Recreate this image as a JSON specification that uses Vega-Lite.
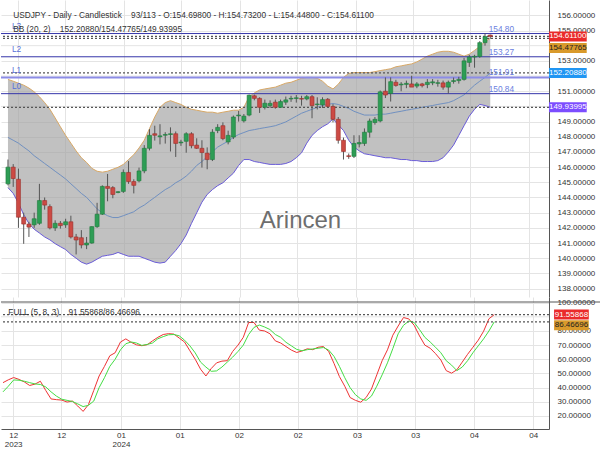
{
  "$schema": "https://vega.github.io/schema/vega-lite/v6.json",
  "padding": 0,
  "background": "white",
  "spacing": 0,
  "bounds": "flush",
  "config": {
    "font": "Liberation Sans",
    "view": {"stroke": null},
    "axis": {"labelFont": "Liberation Sans", "labelFontSize": 8, "labelColor": "#333", "gridColor": "#e4e4e4", "domainColor": "#555", "ticks": false, "labelFlush": false, "labelOverlap": false}
  },
  "datasets": {
    "candles": [
      {"i":0,"open":144.9,"high":146.5,"low":144.8,"close":146.0,"bbUpper":151.78,"bbMid":147.96,"bbLower":144.65,"k":43.5,"d":37},
      {"i":1,"open":146.0,"high":146.2,"low":144.7,"close":145.25,"bbUpper":151.66,"bbMid":147.77,"bbLower":144.27,"k":45.5,"d":41},
      {"i":2,"open":145.2,"high":145.9,"low":142.0,"close":142.7,"bbUpper":151.53,"bbMid":147.58,"bbLower":143.63,"k":47.1,"d":45.4},
      {"i":3,"open":142.7,"high":143.0,"low":140.95,"close":142.25,"bbUpper":151.4,"bbMid":147.32,"bbLower":142.87,"k":45.8,"d":45.2},
      {"i":4,"open":142.25,"high":142.4,"low":141.4,"close":142.05,"bbUpper":151.21,"bbMid":147.07,"bbLower":142.29,"k":44,"d":44.5},
      {"i":5,"open":142.2,"high":143.0,"low":142.0,"close":142.6,"bbUpper":150.96,"bbMid":146.75,"bbLower":141.91,"k":41.5,"d":43.5},
      {"i":6,"open":142.3,"high":144.9,"low":142.2,"close":143.8,"bbUpper":150.64,"bbMid":146.5,"bbLower":141.66,"k":42.5,"d":42.6},
      {"i":7,"open":143.8,"high":144.0,"low":143.2,"close":143.5,"bbUpper":150.25,"bbMid":146.24,"bbLower":141.4,"k":44.5,"d":42.2},
      {"i":8,"open":143.4,"high":143.55,"low":141.9,"close":142.0,"bbUpper":149.81,"bbMid":145.99,"bbLower":141.21,"k":38,"d":40.5},
      {"i":9,"open":142.0,"high":142.5,"low":141.8,"close":142.3,"bbUpper":149.24,"bbMid":145.73,"bbLower":140.96,"k":32,"d":37},
      {"i":10,"open":142.3,"high":142.45,"low":141.95,"close":142.15,"bbUpper":148.66,"bbMid":145.48,"bbLower":140.76,"k":31.5,"d":34},
      {"i":11,"open":142.2,"high":142.6,"low":142.0,"close":142.4,"bbUpper":148.09,"bbMid":145.22,"bbLower":140.57,"k":31.2,"d":31.8},
      {"i":12,"open":142.4,"high":142.8,"low":141.3,"close":141.4,"bbUpper":147.58,"bbMid":144.9,"bbLower":140.25,"k":29.8,"d":31},
      {"i":13,"open":141.4,"high":141.6,"low":140.25,"close":141.2,"bbUpper":147.07,"bbMid":144.59,"bbLower":140.0,"k":30.5,"d":30.2},
      {"i":14,"open":141.35,"high":141.85,"low":140.65,"close":140.87,"bbUpper":146.62,"bbMid":144.27,"bbLower":139.74,"k":27,"d":28.5},
      {"i":15,"open":140.87,"high":141.4,"low":140.6,"close":141.0,"bbUpper":146.31,"bbMid":144.01,"bbLower":139.61,"k":23.2,"d":26.6},
      {"i":16,"open":141.0,"high":142.1,"low":140.95,"close":142.08,"bbUpper":145.92,"bbMid":143.63,"bbLower":139.74,"k":28,"d":27.5},
      {"i":17,"open":142.08,"high":143.65,"low":142.0,"close":142.9,"bbUpper":145.73,"bbMid":143.25,"bbLower":139.94,"k":38,"d":30.5},
      {"i":18,"open":142.9,"high":144.8,"low":142.85,"close":144.73,"bbUpper":145.67,"bbMid":142.99,"bbLower":140.13,"k":48.2,"d":40},
      {"i":19,"open":144.73,"high":145.55,"low":143.75,"close":144.6,"bbUpper":145.73,"bbMid":142.8,"bbLower":140.19,"k":55,"d":47},
      {"i":20,"open":144.65,"high":144.75,"low":143.95,"close":144.2,"bbUpper":145.86,"bbMid":142.68,"bbLower":140.25,"k":62.5,"d":55},
      {"i":21,"open":144.33,"high":144.42,"low":144.28,"close":144.38,"bbUpper":145.99,"bbMid":142.68,"bbLower":140.38,"k":64.6,"d":60},
      {"i":22,"open":144.4,"high":145.85,"low":144.3,"close":145.65,"bbUpper":146.18,"bbMid":142.8,"bbLower":140.25,"k":72.2,"d":66.7},
      {"i":23,"open":145.65,"high":146.4,"low":144.9,"close":145.05,"bbUpper":146.5,"bbMid":142.93,"bbLower":140.13,"k":74.4,"d":71},
      {"i":24,"open":145.05,"high":145.2,"low":144.27,"close":144.8,"bbUpper":146.82,"bbMid":143.06,"bbLower":140.13,"k":72,"d":72.2},
      {"i":25,"open":145.1,"high":145.97,"low":145.0,"close":145.75,"bbUpper":147.26,"bbMid":143.31,"bbLower":140.13,"k":70.2,"d":71.5},
      {"i":26,"open":145.75,"high":147.45,"low":145.6,"close":147.24,"bbUpper":147.77,"bbMid":143.5,"bbLower":140.0,"k":69.6,"d":69.8},
      {"i":27,"open":147.24,"high":148.5,"low":147.1,"close":148.09,"bbUpper":148.54,"bbMid":143.76,"bbLower":139.87,"k":70.3,"d":70.5},
      {"i":28,"open":148.2,"high":148.73,"low":147.75,"close":148.1,"bbUpper":149.3,"bbMid":144.01,"bbLower":139.74,"k":73,"d":71.5},
      {"i":29,"open":148.0,"high":148.83,"low":147.5,"close":148.06,"bbUpper":149.94,"bbMid":144.27,"bbLower":139.68,"k":75.5,"d":74.5},
      {"i":30,"open":148.1,"high":148.3,"low":147.55,"close":148.15,"bbUpper":150.25,"bbMid":144.52,"bbLower":139.74,"k":77.5,"d":76},
      {"i":31,"open":148.15,"high":148.62,"low":147.03,"close":148.2,"bbUpper":150.38,"bbMid":144.71,"bbLower":140.13,"k":78.1,"d":77.3},
      {"i":32,"open":148.2,"high":148.35,"low":146.67,"close":147.56,"bbUpper":150.25,"bbMid":144.97,"bbLower":140.51,"k":77.8,"d":77.5},
      {"i":33,"open":147.6,"high":147.8,"low":147.4,"close":147.65,"bbUpper":150.13,"bbMid":145.16,"bbLower":140.96,"k":75,"d":76.6},
      {"i":34,"open":147.7,"high":148.3,"low":146.95,"close":148.2,"bbUpper":149.94,"bbMid":145.41,"bbLower":141.53,"k":72.2,"d":73.5},
      {"i":35,"open":148.2,"high":148.3,"low":147.24,"close":147.41,"bbUpper":149.81,"bbMid":145.73,"bbLower":142.29,"k":66,"d":69.5},
      {"i":36,"open":147.45,"high":147.9,"low":147.2,"close":147.24,"bbUpper":149.75,"bbMid":146.11,"bbLower":142.99,"k":60,"d":64.5},
      {"i":37,"open":147.24,"high":147.77,"low":145.97,"close":146.96,"bbUpper":149.68,"bbMid":146.37,"bbLower":143.69,"k":53,"d":58},
      {"i":38,"open":146.92,"high":147.3,"low":145.86,"close":146.5,"bbUpper":149.62,"bbMid":146.69,"bbLower":144.2,"k":48.2,"d":54.5},
      {"i":39,"open":146.5,"high":148.5,"low":146.4,"close":148.3,"bbUpper":149.62,"bbMid":147.01,"bbLower":144.52,"k":53.5,"d":51.5},
      {"i":40,"open":148.41,"high":148.83,"low":148.24,"close":148.62,"bbUpper":149.55,"bbMid":147.32,"bbLower":144.78,"k":57.5,"d":51.8},
      {"i":41,"open":148.73,"high":148.95,"low":147.77,"close":147.88,"bbUpper":149.62,"bbMid":147.52,"bbLower":144.97,"k":58.7,"d":54.5},
      {"i":42,"open":147.66,"high":148.4,"low":147.5,"close":148.09,"bbUpper":149.68,"bbMid":147.71,"bbLower":145.29,"k":59,"d":58},
      {"i":43,"open":147.98,"high":149.4,"low":147.85,"close":149.3,"bbUpper":149.75,"bbMid":147.96,"bbLower":145.6,"k":65.5,"d":61.5},
      {"i":44,"open":149.38,"high":149.7,"low":149.0,"close":149.43,"bbUpper":149.75,"bbMid":148.15,"bbLower":146.11,"k":70,"d":65.5},
      {"i":45,"open":149.05,"high":149.5,"low":148.94,"close":149.36,"bbUpper":149.94,"bbMid":148.28,"bbLower":146.5,"k":75.5,"d":70},
      {"i":46,"open":149.43,"high":150.78,"low":149.35,"close":150.74,"bbUpper":150.64,"bbMid":148.41,"bbLower":146.5,"k":86,"d":77.5},
      {"i":47,"open":150.7,"high":150.78,"low":150.4,"close":150.53,"bbUpper":150.89,"bbMid":148.47,"bbLower":146.37,"k":86,"d":82.5},
      {"i":48,"open":150.53,"high":150.6,"low":149.57,"close":149.94,"bbUpper":151.08,"bbMid":148.54,"bbLower":146.31,"k":80.6,"d":84.2},
      {"i":49,"open":149.94,"high":150.45,"low":149.8,"close":150.21,"bbUpper":151.15,"bbMid":148.6,"bbLower":146.24,"k":80,"d":82.8},
      {"i":50,"open":150.05,"high":150.4,"low":149.9,"close":150.2,"bbUpper":151.21,"bbMid":148.66,"bbLower":146.18,"k":78,"d":81},
      {"i":51,"open":150.28,"high":150.45,"low":149.85,"close":149.94,"bbUpper":151.27,"bbMid":148.73,"bbLower":146.18,"k":73,"d":77.5},
      {"i":52,"open":149.94,"high":150.45,"low":149.9,"close":150.32,"bbUpper":151.4,"bbMid":148.85,"bbLower":146.18,"k":71.5,"d":75.5},
      {"i":53,"open":150.28,"high":150.65,"low":150.1,"close":150.43,"bbUpper":151.53,"bbMid":148.98,"bbLower":146.24,"k":69,"d":72},
      {"i":54,"open":150.49,"high":150.7,"low":150.3,"close":150.53,"bbUpper":151.59,"bbMid":149.17,"bbLower":146.37,"k":66.5,"d":69.5},
      {"i":55,"open":150.52,"high":150.75,"low":150.25,"close":150.57,"bbUpper":151.72,"bbMid":149.36,"bbLower":146.62,"k":64.8,"d":67},
      {"i":56,"open":150.52,"high":150.7,"low":150.05,"close":150.48,"bbUpper":151.85,"bbMid":149.55,"bbLower":146.94,"k":65.9,"d":66},
      {"i":57,"open":150.49,"high":150.75,"low":150.4,"close":150.64,"bbUpper":151.91,"bbMid":149.68,"bbLower":147.58,"k":67.4,"d":66.8},
      {"i":58,"open":150.64,"high":150.75,"low":149.22,"close":150.05,"bbUpper":151.91,"bbMid":149.81,"bbLower":148.09,"k":66.8,"d":67.3},
      {"i":59,"open":150.12,"high":150.6,"low":149.8,"close":150.16,"bbUpper":151.85,"bbMid":149.94,"bbLower":148.41,"k":68.5,"d":67.8},
      {"i":60,"open":150.1,"high":150.6,"low":149.9,"close":150.45,"bbUpper":151.66,"bbMid":150.06,"bbLower":148.66,"k":69,"d":68.3},
      {"i":61,"open":150.47,"high":150.55,"low":149.95,"close":150.0,"bbUpper":151.34,"bbMid":150.13,"bbLower":148.85,"k":65.5,"d":66.5},
      {"i":62,"open":150.0,"high":150.15,"low":148.95,"close":149.15,"bbUpper":151.15,"bbMid":150.19,"bbLower":149.17,"k":57,"d":62},
      {"i":63,"open":149.15,"high":149.3,"low":147.55,"close":147.77,"bbUpper":151.46,"bbMid":150.13,"bbLower":148.79,"k":47.8,"d":55},
      {"i":64,"open":147.77,"high":147.95,"low":146.5,"close":147.03,"bbUpper":151.91,"bbMid":150.0,"bbLower":148.41,"k":41,"d":47},
      {"i":65,"open":146.75,"high":146.9,"low":146.55,"close":146.7,"bbUpper":152.17,"bbMid":149.87,"bbLower":147.77,"k":33,"d":40},
      {"i":66,"open":146.71,"high":148.1,"low":146.6,"close":147.56,"bbUpper":152.23,"bbMid":149.68,"bbLower":147.33,"k":31,"d":35},
      {"i":67,"open":147.53,"high":148.1,"low":147.3,"close":147.62,"bbUpper":152.23,"bbMid":149.55,"bbLower":147.07,"k":29.7,"d":32},
      {"i":68,"open":147.56,"high":148.55,"low":147.4,"close":148.3,"bbUpper":152.23,"bbMid":149.43,"bbLower":146.88,"k":33,"d":31},
      {"i":69,"open":148.3,"high":149.2,"low":147.95,"close":149.04,"bbUpper":152.23,"bbMid":149.43,"bbLower":146.82,"k":39,"d":34},
      {"i":70,"open":148.94,"high":149.3,"low":148.8,"close":149.15,"bbUpper":152.29,"bbMid":149.43,"bbLower":146.75,"k":49,"d":41},
      {"i":71,"open":149.04,"high":151.05,"low":148.95,"close":150.96,"bbUpper":152.36,"bbMid":149.49,"bbLower":146.69,"k":59,"d":49},
      {"i":72,"open":151.0,"high":151.91,"low":150.55,"close":150.75,"bbUpper":152.42,"bbMid":149.49,"bbLower":146.62,"k":66.7,"d":57.5},
      {"i":73,"open":150.85,"high":151.91,"low":150.32,"close":151.63,"bbUpper":152.48,"bbMid":149.55,"bbLower":146.62,"k":77,"d":67.5},
      {"i":74,"open":151.59,"high":151.75,"low":151.3,"close":151.38,"bbUpper":152.61,"bbMid":149.62,"bbLower":146.56,"k":83.5,"d":78},
      {"i":75,"open":151.42,"high":151.6,"low":151.0,"close":151.47,"bbUpper":152.67,"bbMid":149.68,"bbLower":146.5,"k":89.5,"d":84},
      {"i":76,"open":151.45,"high":151.7,"low":151.2,"close":151.52,"bbUpper":152.74,"bbMid":149.75,"bbLower":146.5,"k":88.5,"d":87},
      {"i":77,"open":151.48,"high":152.02,"low":151.3,"close":151.27,"bbUpper":152.8,"bbMid":149.81,"bbLower":146.43,"k":84,"d":86},
      {"i":78,"open":151.34,"high":151.6,"low":151.2,"close":151.48,"bbUpper":152.93,"bbMid":149.87,"bbLower":146.43,"k":76.5,"d":81},
      {"i":79,"open":151.48,"high":151.55,"low":151.25,"close":151.37,"bbUpper":153.12,"bbMid":149.94,"bbLower":146.37,"k":70,"d":75.5},
      {"i":80,"open":151.44,"high":151.8,"low":151.2,"close":151.59,"bbUpper":153.31,"bbMid":150.0,"bbLower":146.37,"k":67.8,"d":72.2},
      {"i":81,"open":151.55,"high":151.8,"low":151.4,"close":151.62,"bbUpper":153.44,"bbMid":150.06,"bbLower":146.37,"k":64,"d":68.5},
      {"i":82,"open":151.52,"high":151.75,"low":151.3,"close":151.56,"bbUpper":153.57,"bbMid":150.13,"bbLower":146.43,"k":59.5,"d":64.6},
      {"i":83,"open":151.55,"high":151.7,"low":151.1,"close":151.27,"bbUpper":153.63,"bbMid":150.19,"bbLower":146.62,"k":52,"d":59},
      {"i":84,"open":151.27,"high":151.7,"low":150.85,"close":151.59,"bbUpper":153.63,"bbMid":150.25,"bbLower":147.0,"k":50.2,"d":55.9},
      {"i":85,"open":151.64,"high":151.9,"low":151.5,"close":151.7,"bbUpper":153.57,"bbMid":150.38,"bbLower":147.45,"k":52.6,"d":52},
      {"i":86,"open":151.7,"high":151.95,"low":151.5,"close":151.78,"bbUpper":153.44,"bbMid":150.57,"bbLower":148.09,"k":58,"d":54.5},
      {"i":87,"open":151.78,"high":153.2,"low":151.7,"close":153.0,"bbUpper":153.31,"bbMid":150.76,"bbLower":148.73,"k":63.5,"d":59},
      {"i":88,"open":152.9,"high":153.4,"low":152.6,"close":153.25,"bbUpper":153.44,"bbMid":151.08,"bbLower":149.36,"k":68.5,"d":64.6},
      {"i":89,"open":153.25,"high":153.4,"low":152.55,"close":153.3,"bbUpper":153.69,"bbMid":151.4,"bbLower":149.81,"k":73.5,"d":69.5},
      {"i":90,"open":153.29,"high":154.3,"low":153.2,"close":154.2,"bbUpper":153.95,"bbMid":151.66,"bbLower":150.13,"k":79.8,"d":74.4},
      {"i":91,"open":154.2,"high":154.82,"low":154.0,"close":154.6,"bbUpper":154.27,"bbMid":151.91,"bbLower":150.06,"k":88.6,"d":80},
      {"i":92,"open":154.698,"high":154.732,"low":154.448,"close":154.611,"bbUpper":154.47765,"bbMid":152.2088,"bbLower":149.93995,"k":91.55868,"d":86.46696}
    ],
    "levels": [
      {"level":"L3","value":154.80,"label":"154.80"},
      {"level":"L2","value":153.27,"label":"153.27"},
      {"level":"L1","value":151.91,"label":"151.91"},
      {"level":"L0","value":150.84,"label":"150.84"}
    ],
    "topMarks": [
      {"series":"close","value":154.611,"label":"154.61100"},
      {"series":"bbUpper","value":154.47765,"label":"154.47765"},
      {"series":"bbMid","value":152.2088,"label":"152.20880"},
      {"series":"bbLower","value":149.93995,"label":"149.93995"}
    ],
    "stochMarks": [
      {"series":"k","value":91.55868,"label":"91.55868"},
      {"series":"d","value":86.46696,"label":"86.46696"}
    ]
  },
  "vconcat": [
    {
      "width": 548,
      "height": 297,
      "data": {"name": "candles"},
      "layer": [
        {
          "mark": {"type": "rule", "color": "#e4e4e4", "strokeWidth": 1},
          "data": {"values": [{"v": 150}, {"v": 152}, {"v": 154}]},
          "encoding": {
            "y": {"field": "v", "type": "quantitative", "scale": {"domain": [137.775, 156.68], "nice": false, "zero": false}}
          }
        },
        {
          "mark": {"type": "area", "color": "#a0a0a0", "opacity": 0.65},
          "encoding": {
            "x": {"field": "i", "type": "quantitative", "scale": {"domain": [-0.375, 102.25], "nice": false, "zero": false},
                  "axis": {"values": [1.9, 10.9, 22.1, 33.1, 44.2, 55.2, 66.3, 77.2, 88.2, 99.3], "tickCount": 50, "labels": false, "ticks": false, "grid": true, "domain": false, "title": null}},
            "y": {"field": "bbUpper", "type": "quantitative", "scale": {"domain": [137.775, 156.68], "nice": false, "zero": false},
                  "axis": {"orient": "right", "values": [138,139,140,141,142,143,144,145,146,147,148,149,151,153,155,156], "tickCount": 50, "format": ".5f", "labelPadding": 8, "ticks": false, "grid": true, "domain": true, "domainColor": "#555", "labelOverlap": false, "title": null}},
            "y2": {"field": "bbLower"}
          }
        },
        {
          "mark": {"type": "line", "color": "#7090c0", "strokeWidth": 1},
          "encoding": {
            "x": {"field": "i", "type": "quantitative", "scale": {"domain": [-0.375, 102.25], "nice": false, "zero": false}},
            "y": {"field": "bbMid", "type": "quantitative", "scale": {"domain": [137.775, 156.68], "nice": false, "zero": false}}
          }
        },
        {
          "mark": {"type": "line", "color": "#d8a866", "strokeWidth": 1},
          "encoding": {
            "x": {"field": "i", "type": "quantitative", "scale": {"domain": [-0.375, 102.25], "nice": false, "zero": false}},
            "y": {"field": "bbUpper", "type": "quantitative", "scale": {"domain": [137.775, 156.68], "nice": false, "zero": false}}
          }
        },
        {
          "mark": {"type": "line", "color": "#6a5cd8", "strokeWidth": 1},
          "encoding": {
            "x": {"field": "i", "type": "quantitative", "scale": {"domain": [-0.375, 102.25], "nice": false, "zero": false}},
            "y": {"field": "bbLower", "type": "quantitative", "scale": {"domain": [137.775, 156.68], "nice": false, "zero": false}}
          }
        },
        {
          "data": {"name": "levels"},
          "transform": [{"filter": "datum.level != 'L1'"}],
          "mark": {"type": "rule", "color": "#3636aa", "strokeWidth": 1},
          "encoding": {
            "y": {"field": "value", "type": "quantitative", "scale": {"domain": [137.775, 156.68], "nice": false, "zero": false}}
          }
        },
        {
          "data": {"name": "levels"},
          "transform": [{"filter": "datum.level == 'L1'"}],
          "mark": {"type": "rule", "color": "#8c8ce6", "strokeWidth": 2},
          "encoding": {
            "y": {"field": "value", "type": "quantitative", "scale": {"domain": [137.775, 156.68], "nice": false, "zero": false}}
          }
        },
        {
          "data": {"name": "topMarks"},
          "mark": {"type": "rule", "color": "#555", "strokeWidth": 1.2, "strokeDash": [2, 2]},
          "encoding": {
            "y": {"field": "value", "type": "quantitative", "scale": {"domain": [137.775, 156.68], "nice": false, "zero": false}}
          }
        },
        {
          "data": {"values": [{"text": "Arincen"}]},
          "mark": {"type": "text", "fontSize": 24, "color": "#6e6e6e", "align": "center", "baseline": "middle"},
          "encoding": {
            "x": {"datum": 55.8, "type": "quantitative", "scale": {"domain": [-0.375, 102.25], "nice": false, "zero": false}},
            "y": {"datum": 142.42, "type": "quantitative", "scale": {"domain": [137.775, 156.68], "nice": false, "zero": false}},
            "text": {"field": "text"}
          }
        },
        {
          "mark": {"type": "rule", "color": "#555", "strokeWidth": 1},
          "encoding": {
            "x": {"field": "i", "type": "quantitative", "scale": {"domain": [-0.375, 102.25], "nice": false, "zero": false}},
            "y": {"field": "low", "type": "quantitative", "scale": {"domain": [137.775, 156.68], "nice": false, "zero": false}},
            "y2": {"field": "high"}
          }
        },
        {
          "mark": {"type": "bar", "size": 4, "strokeWidth": 0.6},
          "encoding": {
            "x": {"field": "i", "type": "quantitative", "scale": {"domain": [-0.375, 102.25], "nice": false, "zero": false}},
            "y": {"field": "open", "type": "quantitative", "scale": {"domain": [137.775, 156.68], "nice": false, "zero": false}},
            "y2": {"field": "close"},
            "fill": {"condition": {"test": "datum.close < datum.open", "value": "#cc4a44"}, "value": "#2e9d55"},
            "stroke": {"condition": {"test": "datum.close < datum.open", "value": "#9b2f2a"}, "value": "#1f7a3d"}
          }
        },
        {
          "data": {"values": [{"text": "USDJPY - Daily - Candlestick \u00a0\u00a0\u00a093/113 - O:154.69800 - H:154.73200 - L:154.44800 - C:154.61100"}]},
          "mark": {"type": "text", "fontSize": 8.3, "color": "#333", "align": "left", "baseline": "alphabetic"},
          "encoding": {
            "x": {"datum": 1.0, "type": "quantitative", "scale": {"domain": [-0.375, 102.25], "nice": false, "zero": false}},
            "y": {"datum": 155.83, "type": "quantitative", "scale": {"domain": [137.775, 156.68], "nice": false, "zero": false}},
            "text": {"field": "text"}
          }
        },
        {
          "data": {"name": "levels"},
          "mark": {"type": "text", "fontSize": 8.3, "color": "#5a6fd8", "align": "left", "baseline": "alphabetic", "dy": -4.5},
          "encoding": {
            "x": {"datum": 0.75, "type": "quantitative", "scale": {"domain": [-0.375, 102.25], "nice": false, "zero": false}},
            "y": {"field": "value", "type": "quantitative", "scale": {"domain": [137.775, 156.68], "nice": false, "zero": false}},
            "text": {"field": "level"}
          }
        },
        {
          "data": {"values": [{"text": "BB (20, 2) \u00a0\u00a0\u00a0152.20880/154.47765/149.93995"}]},
          "mark": {"type": "text", "fontSize": 8.3, "color": "#333", "align": "left", "baseline": "alphabetic"},
          "encoding": {
            "x": {"datum": 1.0, "type": "quantitative", "scale": {"domain": [-0.375, 102.25], "nice": false, "zero": false}},
            "y": {"datum": 154.88, "type": "quantitative", "scale": {"domain": [137.775, 156.68], "nice": false, "zero": false}},
            "text": {"field": "text"}
          }
        },
        {
          "data": {"name": "levels"},
          "mark": {"type": "text", "fontSize": 8.3, "color": "#6a80e0", "align": "left", "baseline": "alphabetic", "dy": -2},
          "encoding": {
            "x": {"datum": 91.7, "type": "quantitative", "scale": {"domain": [-0.375, 102.25], "nice": false, "zero": false}},
            "y": {"field": "value", "type": "quantitative", "scale": {"domain": [137.775, 156.68], "nice": false, "zero": false}},
            "text": {"field": "label"}
          }
        },
        {
          "data": {"name": "topMarks"},
          "transform": [{"filter": "datum.series != 'bbUpper'"}],
          "mark": {"type": "bar", "orient": "horizontal", "size": 10, "clip": false},
          "encoding": {
            "x": {"datum": 103.2, "type": "quantitative", "scale": {"domain": [-0.375, 102.25], "nice": false, "zero": false}},
            "x2": {"datum": 110.4},
            "y": {"field": "value", "type": "quantitative", "scale": {"domain": [137.775, 156.68], "nice": false, "zero": false}},
            "fill": {"field": "series", "type": "nominal", "scale": {"domain": ["close", "bbUpper", "bbMid", "bbLower"], "range": ["#ea2a2a", "#d99a2b", "#2196f3", "#7c4dff"]}, "legend": null}
          }
        },
        {
          "data": {"name": "topMarks"},
          "transform": [{"filter": "datum.series == 'bbUpper'"}],
          "mark": {"type": "bar", "orient": "horizontal", "size": 10, "clip": false, "yOffset": 9.5},
          "encoding": {
            "x": {"datum": 103.2, "type": "quantitative", "scale": {"domain": [-0.375, 102.25], "nice": false, "zero": false}},
            "x2": {"datum": 110.4},
            "y": {"field": "value", "type": "quantitative", "scale": {"domain": [137.775, 156.68], "nice": false, "zero": false}},
            "fill": {"field": "series", "type": "nominal", "scale": {"domain": ["close", "bbUpper", "bbMid", "bbLower"], "range": ["#ea2a2a", "#d99a2b", "#2196f3", "#7c4dff"]}, "legend": null}
          }
        },
        {
          "data": {"name": "topMarks"},
          "transform": [{"filter": "datum.series != 'bbUpper'"}],
          "mark": {"type": "text", "fontSize": 8, "align": "center", "baseline": "middle", "clip": false},
          "encoding": {
            "x": {"datum": 106.8, "type": "quantitative", "scale": {"domain": [-0.375, 102.25], "nice": false, "zero": false}},
            "y": {"field": "value", "type": "quantitative", "scale": {"domain": [137.775, 156.68], "nice": false, "zero": false}},
            "text": {"field": "label"},
            "color": {"field": "series", "type": "nominal", "scale": {"domain": ["close", "bbUpper", "bbMid", "bbLower"], "range": ["#ffffff", "#222222", "#ffffff", "#ffffff"]}, "legend": null}
          }
        },
        {
          "data": {"name": "topMarks"},
          "transform": [{"filter": "datum.series == 'bbUpper'"}],
          "mark": {"type": "text", "fontSize": 8, "align": "center", "baseline": "middle", "clip": false, "yOffset": 9.5},
          "encoding": {
            "x": {"datum": 106.8, "type": "quantitative", "scale": {"domain": [-0.375, 102.25], "nice": false, "zero": false}},
            "y": {"field": "value", "type": "quantitative", "scale": {"domain": [137.775, 156.68], "nice": false, "zero": false}},
            "text": {"field": "label"},
            "color": {"field": "series", "type": "nominal", "scale": {"domain": ["close", "bbUpper", "bbMid", "bbLower"], "range": ["#ffffff", "#222222", "#ffffff", "#ffffff"]}, "legend": null}
          }
        }
      ]
    },
    {
      "width": 548,
      "height": 132,
      "data": {"name": "candles"},
      "layer": [
        {
          "mark": {"type": "rule", "color": "#e4e4e4", "strokeWidth": 1},
          "data": {"values": [{"v": 90}]},
          "encoding": {
            "y": {"field": "v", "type": "quantitative", "scale": {"domain": [14.3, 100.46], "nice": false, "zero": false}}
          }
        },
        {
          "mark": {"type": "line", "color": "#ee3333", "strokeWidth": 1},
          "encoding": {
            "x": {"field": "i", "type": "quantitative", "scale": {"domain": [-0.375, 102.25], "nice": false, "zero": false},
                  "axis": {"values": [1.9, 10.9, 22.1, 33.1, 44.2, 55.2, 66.3, 77.2, 88.2, 99.3], "tickCount": 50, "labelExpr": "datum.value < 5 ? ['12', '2023'] : datum.value < 15 ? '12' : datum.value < 25 ? ['01', '2024'] : datum.value < 40 ? '01' : datum.value < 60 ? '02' : datum.value < 80 ? '03' : '04'", "grid": true, "ticks": false, "domain": true, "domainColor": "#555", "labelPadding": 2, "labelLineHeight": 9, "labelBaseline": "top", "labelFlush": false, "labelOverlap": false, "title": null}},
            "y": {"field": "k", "type": "quantitative", "scale": {"domain": [14.3, 100.46], "nice": false, "zero": false},
                  "axis": {"orient": "right", "values": [20, 30, 40, 50, 60, 70, 80, 100], "tickCount": 50, "format": ".5f", "labelPadding": 8, "ticks": false, "grid": true, "domain": true, "domainColor": "#555", "labelOverlap": false, "title": null}}
          }
        },
        {
          "mark": {"type": "line", "color": "#44dd44", "strokeWidth": 1},
          "encoding": {
            "x": {"field": "i", "type": "quantitative", "scale": {"domain": [-0.375, 102.25], "nice": false, "zero": false}},
            "y": {"field": "d", "type": "quantitative", "scale": {"domain": [14.3, 100.46], "nice": false, "zero": false}}
          }
        },
        {
          "data": {"name": "stochMarks"},
          "mark": {"type": "rule", "color": "#555", "strokeWidth": 1.2, "strokeDash": [2, 2]},
          "encoding": {
            "y": {"field": "value", "type": "quantitative", "scale": {"domain": [14.3, 100.46], "nice": false, "zero": false}}
          }
        },
        {
          "data": {"values": [{"edge": "panel separator"}]},
          "mark": {"type": "rule", "color": "#555", "strokeWidth": 1, "clip": false},
          "encoding": {
            "x": {"datum": -0.375, "type": "quantitative", "scale": {"domain": [-0.375, 102.25], "nice": false, "zero": false}},
            "x2": {"datum": 111.9},
            "y": {"datum": 100.46, "type": "quantitative", "scale": {"domain": [14.3, 100.46], "nice": false, "zero": false}}
          }
        },
        {
          "data": {"values": [{"text": "FULL (5, 8, 3) \u00a0\u00a0\u00a091.55868/86.46696"}]},
          "mark": {"type": "text", "fontSize": 8.3, "color": "#333", "align": "left", "baseline": "alphabetic"},
          "encoding": {
            "x": {"datum": 1.0, "type": "quantitative", "scale": {"domain": [-0.375, 102.25], "nice": false, "zero": false}},
            "y": {"datum": 91.4, "type": "quantitative", "scale": {"domain": [14.3, 100.46], "nice": false, "zero": false}},
            "text": {"field": "text"}
          }
        },
        {
          "data": {"name": "stochMarks"},
          "transform": [{"filter": "datum.series == 'k'"}],
          "mark": {"type": "bar", "orient": "horizontal", "size": 10, "clip": false},
          "encoding": {
            "x": {"datum": 103.2, "type": "quantitative", "scale": {"domain": [-0.375, 102.25], "nice": false, "zero": false}},
            "x2": {"datum": 109.7},
            "y": {"field": "value", "type": "quantitative", "scale": {"domain": [14.3, 100.46], "nice": false, "zero": false}},
            "fill": {"field": "series", "type": "nominal", "scale": {"domain": ["k", "d"], "range": ["#ff2222", "#22dd22"]}, "legend": null}
          }
        },
        {
          "data": {"name": "stochMarks"},
          "transform": [{"filter": "datum.series == 'd'"}],
          "mark": {"type": "bar", "orient": "horizontal", "size": 10, "clip": false, "yOffset": 3.5},
          "encoding": {
            "x": {"datum": 103.2, "type": "quantitative", "scale": {"domain": [-0.375, 102.25], "nice": false, "zero": false}},
            "x2": {"datum": 109.7},
            "y": {"field": "value", "type": "quantitative", "scale": {"domain": [14.3, 100.46], "nice": false, "zero": false}},
            "fill": {"field": "series", "type": "nominal", "scale": {"domain": ["k", "d"], "range": ["#ff2222", "#22dd22"]}, "legend": null}
          }
        },
        {
          "data": {"name": "stochMarks"},
          "transform": [{"filter": "datum.series == 'k'"}],
          "mark": {"type": "text", "fontSize": 8, "align": "center", "baseline": "middle", "clip": false},
          "encoding": {
            "x": {"datum": 106.45, "type": "quantitative", "scale": {"domain": [-0.375, 102.25], "nice": false, "zero": false}},
            "y": {"field": "value", "type": "quantitative", "scale": {"domain": [14.3, 100.46], "nice": false, "zero": false}},
            "text": {"field": "label"},
            "color": {"field": "series", "type": "nominal", "scale": {"domain": ["k", "d"], "range": ["#ffffff", "#1a1a1a"]}, "legend": null}
          }
        },
        {
          "data": {"name": "stochMarks"},
          "transform": [{"filter": "datum.series == 'd'"}],
          "mark": {"type": "text", "fontSize": 8, "align": "center", "baseline": "middle", "clip": false, "yOffset": 3.5},
          "encoding": {
            "x": {"datum": 106.45, "type": "quantitative", "scale": {"domain": [-0.375, 102.25], "nice": false, "zero": false}},
            "y": {"field": "value", "type": "quantitative", "scale": {"domain": [14.3, 100.46], "nice": false, "zero": false}},
            "text": {"field": "label"},
            "color": {"field": "series", "type": "nominal", "scale": {"domain": ["k", "d"], "range": ["#ffffff", "#1a1a1a"]}, "legend": null}
          }
        }
      ]
    }
  ]
}
